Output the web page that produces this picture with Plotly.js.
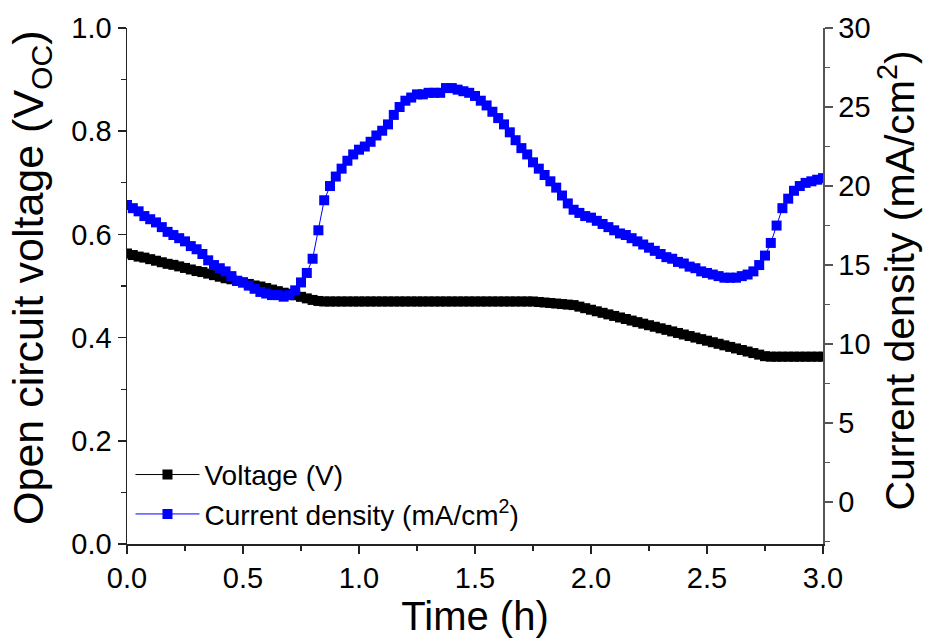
<!DOCTYPE html>
<html>
<head>
<meta charset="utf-8">
<script src="https://cdn.plot.ly/plotly-3.0.1.min.js"></script>
<style>html,body{margin:0;padding:0;background:#fff;}#chart{width:926px;height:641px;}</style>
</head>
<body>
<div id="chart"></div>
<script>
const timeH = [0.000,0.025,0.050,0.075,0.100,0.125,0.150,0.175,0.200,0.225,0.250,0.275,0.300,0.325,0.350,0.375,0.400,0.425,0.450,0.475,
0.500,0.525,0.550,0.575,0.600,0.625,0.650,0.675,0.700,0.725,0.750,0.775,0.800,0.825,0.850,0.875,0.900,0.925,0.950,0.975,
1.000,1.025,1.050,1.075,1.100,1.125,1.150,1.175,1.200,1.225,1.250,1.275,1.300,1.325,1.350,1.375,1.400,1.425,1.450,1.475,
1.500,1.525,1.550,1.575,1.600,1.625,1.650,1.675,1.700,1.725,1.750,1.775,1.800,1.825,1.850,1.875,1.900,1.925,1.950,1.975,
2.000,2.025,2.050,2.075,2.100,2.125,2.150,2.175,2.200,2.225,2.250,2.275,2.300,2.325,2.350,2.375,2.400,2.425,2.450,2.475,
2.500,2.525,2.550,2.575,2.600,2.625,2.650,2.675,2.700,2.725,2.750,2.775,2.800,2.825,2.850,2.875,2.900,2.925,2.950,2.975,3.000];

const voltageV = [0.563,0.560,0.557,0.555,0.552,0.549,0.546,0.543,0.541,0.538,0.535,0.532,0.529,0.527,0.524,0.521,0.518,0.515,0.513,0.510,
0.507,0.504,0.501,0.499,0.496,0.493,0.490,0.487,0.485,0.482,0.479,0.476,0.473,0.471,0.470,0.470,0.470,0.470,0.470,0.470,
0.470,0.470,0.470,0.470,0.470,0.470,0.470,0.470,0.470,0.470,0.470,0.470,0.470,0.470,0.470,0.470,0.470,0.470,0.470,0.470,
0.470,0.470,0.470,0.470,0.470,0.470,0.470,0.470,0.470,0.470,0.470,0.469,0.468,0.467,0.466,0.465,0.464,0.463,0.460,0.457,
0.454,0.451,0.448,0.445,0.442,0.439,0.436,0.433,0.430,0.427,0.424,0.421,0.418,0.415,0.412,0.409,0.406,0.403,0.400,0.397,
0.394,0.391,0.388,0.385,0.382,0.379,0.376,0.373,0.370,0.367,0.364,0.363,0.363,0.363,0.363,0.363,0.363,0.363,0.363,0.363,0.363];

const currentDensity = [18.8,18.6,18.4,18.1,17.9,17.7,17.4,17.1,16.9,16.7,16.5,16.2,16.0,15.7,15.3,15.0,14.8,14.6,14.3,14.0,
13.9,13.7,13.5,13.3,13.2,13.1,13.1,13.0,13.1,13.4,13.9,14.5,15.4,17.2,19.1,20.0,20.6,21.1,21.6,22.0,
22.3,22.5,22.8,23.2,23.5,23.9,24.5,25.0,25.4,25.6,25.8,25.8,25.9,25.9,25.9,26.2,26.2,26.1,26.0,25.9,
25.7,25.4,25.1,24.7,24.3,23.9,23.4,22.9,22.4,22.0,21.5,21.1,20.7,20.3,19.9,19.4,18.9,18.5,18.3,18.1,
18.0,17.8,17.6,17.4,17.2,17.0,16.9,16.7,16.5,16.3,16.1,15.9,15.7,15.5,15.4,15.2,15.1,14.9,14.8,14.6,
14.5,14.4,14.3,14.2,14.2,14.2,14.3,14.4,14.6,15.0,15.6,16.4,17.5,18.6,19.2,19.7,20.0,20.2,20.3,20.4,20.5];

const seriesNames = ["Voltage (V)", "Current density (mA/cm<sup>2</sup>)"];
const xTitle = "Time (h)";
const yTitle = "Open circuit voltage (V<sub>OC</sub>)";
const y2Title = "Current density (mA/cm<sup>2</sup>)";

const FONT = "Arial, 'Liberation Sans', sans-serif";

const traces = [
  {
    x: timeH, y: voltageV, name: seriesNames[0], type: "scatter", mode: "lines+markers",
    line: {color: "#000000", width: 1},
    marker: {symbol: "square", size: 10, color: "#000000"},
    yaxis: "y"
  },
  {
    x: timeH, y: currentDensity, name: seriesNames[1], type: "scatter", mode: "lines+markers",
    line: {color: "#0000ff", width: 1},
    marker: {symbol: "square", size: 10, color: "#0000ff"},
    yaxis: "y2"
  }
];

const axisCommon = {
  showgrid: false, zeroline: false, showline: true, linecolor: "#222", linewidth: 1.5,
  ticks: "outside", ticklen: 8, tickwidth: 1.5, tickcolor: "#222",
  tickfont: {family: FONT, size: 29, color: "#000"}
};

const layout = {
  width: 926, height: 641,
  margin: {l: 127, r: 103, t: 28, b: 97},
  paper_bgcolor: "#ffffff", plot_bgcolor: "#ffffff",
  showlegend: true,
  legend: {
    x: 0.005, y: 0.01, xanchor: "left", yanchor: "bottom",
    bgcolor: "rgba(0,0,0,0)", borderwidth: 0,
    font: {family: FONT, size: 28, color: "#000"},
    itemwidth: 64, tracegroupgap: 0
  },
  xaxis: Object.assign({}, axisCommon, {
    range: [0, 3], dtick: 0.5, tick0: 0, tickformat: ".1f",
    minor: {dtick: 0.25, ticklen: 5, tickwidth: 1.2, tickcolor: "#222", ticks: "outside"},
    title: {text: xTitle, font: {family: FONT, size: 40, color: "#000"}, standoff: 4}
  }),
  yaxis: Object.assign({}, axisCommon, {
    range: [0, 1], dtick: 0.2, tick0: 0, tickformat: ".1f",
    minor: {dtick: 0.1, ticklen: 5, tickwidth: 1.2, tickcolor: "#222", ticks: "outside"}
  }),
  yaxis2: Object.assign({}, axisCommon, {
    overlaying: "y", side: "right", anchor: "x",
    range: [-2.65, 30], dtick: 5, tick0: 0,
    linecolor: "#555", tickcolor: "#555",
    minor: {dtick: 2.5, ticklen: 5, tickwidth: 1.2, tickcolor: "#555", ticks: "outside"}
  }),
  annotations: [
    {text: yTitle, xref: "paper", yref: "paper", x: -0.137, y: 0.515, xanchor: "center", yanchor: "middle",
     textangle: -90, showarrow: false, font: {family: FONT, size: 43, color: "#000"}},
    {text: y2Title, xref: "paper", yref: "paper", x: 1.106, y: 0.51, xanchor: "center", yanchor: "middle",
     textangle: -90, showarrow: false, font: {family: FONT, size: 41, color: "#000"}}
  ]
};

Plotly.newPlot("chart", traces, layout, {displayModeBar: false, staticPlot: true});
</script>
</body>
</html>
